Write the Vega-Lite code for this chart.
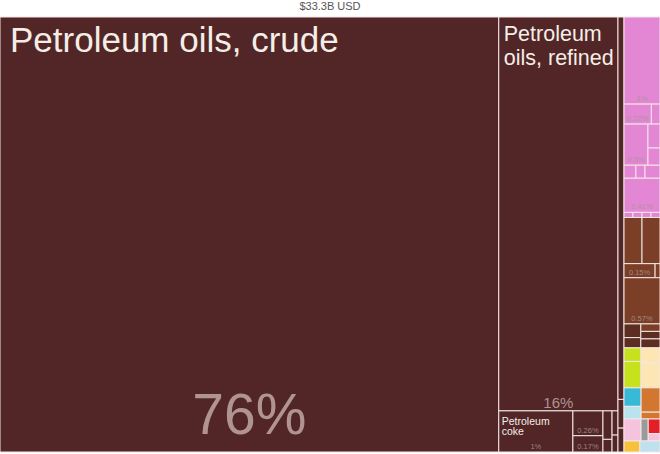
{
  "$schema": "https://vega.github.io/schema/vega-lite/v6.json",
  "autosize": "none",
  "width": 660,
  "height": 435,
  "padding": {"left": 0, "right": 0, "top": 17, "bottom": 2},
  "background": "white",
  "title": {"text": "$33.3B USD", "fontSize": 11, "font": "Liberation Sans", "fontWeight": "normal", "color": "#555555", "anchor": "middle", "offset": 5},
  "config": {"view": {"stroke": null}},
  "data": {"values": [
    {"col":1,"row":1,"cell":1,"sub":1,"name":"Petroleum oils, crude","label":"Petroleum oils, crude","sec":"fuel","share":75.45,"pct":"76%"},
    {"col":2,"row":1,"cell":1,"sub":1,"name":"Petroleum oils, refined","label":"Petroleum\noils, refined","sec":"fuel","share":16.33,"pct":"16%"},
    {"col":2,"row":2,"cell":1,"sub":1,"name":"Petroleum coke","label":"Petroleum\ncoke","sec":"fuel","share":1.06,"pct":"1%"},
    {"col":2,"row":2,"cell":2,"sub":1,"name":"Petroleum bitumen","sec":"fuel","share":0.26,"pct":"0.26%"},
    {"col":2,"row":2,"cell":2,"sub":2,"name":"Petroleum gas","sec":"fuel","share":0.17,"pct":"0.17%"},
    {"col":2,"row":2,"cell":3,"sub":1,"name":"Coal tar oil","sec":"fuel","share":0.09},
    {"col":2,"row":2,"cell":3,"sub":2,"name":"Coal","sec":"fuel","share":0.04},
    {"col":2,"row":2,"cell":4,"sub":1,"name":"Bituminous mixtures","sec":"fuel","share":0.05},
    {"col":2,"row":2,"cell":4,"sub":2,"name":"Other fuels","sec":"fuel","share":0.035},
    {"col":3,"row":1,"cell":1,"sub":1,"name":"Petroleum jelly","sec":"fuel","share":0.80},
    {"col":3,"row":2,"cell":1,"sub":1,"name":"Lignite","sec":"fuel","share":0.06},
    {"col":3,"row":3,"cell":1,"sub":1,"name":"Peat","sec":"fuel","share":0.05},
    {"col":4,"row":1,"cell":1,"sub":1,"name":"Ammonia","sec":"chem","share":1.09,"pct":"1%"},
    {"col":4,"row":2,"cell":1,"sub":1,"name":"Nitrogenous fertilizers","sec":"chem","share":0.19,"pct":"0.22%"},
    {"col":4,"row":2,"cell":2,"sub":1,"name":"Hydrogen","sec":"chem","share":0.06},
    {"col":4,"row":3,"cell":1,"sub":1,"name":"Acyclic alcohols","sec":"chem","share":0.343,"pct":"0.3%"},
    {"col":4,"row":3,"cell":2,"sub":1,"name":"Ethylene polymers","sec":"chem","share":0.10},
    {"col":4,"row":3,"cell":2,"sub":2,"name":"Propylene polymers","sec":"chem","share":0.072},
    {"col":4,"row":4,"cell":1,"sub":1,"name":"Acyclic hydrocarbons","sec":"chem","share":0.054},
    {"col":4,"row":4,"cell":2,"sub":1,"name":"Cyclic hydrocarbons","sec":"chem","share":0.041},
    {"col":4,"row":4,"cell":3,"sub":1,"name":"Carboxylic acids","sec":"chem","share":0.068},
    {"col":4,"row":5,"cell":1,"sub":1,"name":"Mixed mineral fertilizers","sec":"chem","share":0.427,"pct":"0.41%"},
    {"col":4,"row":6,"cell":1,"sub":1,"name":"Soaps","sec":"chem","share":0.016},
    {"col":4,"row":6,"cell":2,"sub":1,"name":"Paints","sec":"chem","share":0.016},
    {"col":4,"row":6,"cell":3,"sub":1,"name":"Medicaments","sec":"chem","share":0.016},
    {"col":4,"row":6,"cell":4,"sub":1,"name":"Glues","sec":"chem","share":0.016},
    {"col":4,"row":7,"cell":1,"sub":1,"name":"Cement","sec":"stone","share":0.289},
    {"col":4,"row":7,"cell":2,"sub":1,"name":"Iron ore","sec":"stone","share":0.289},
    {"col":4,"row":8,"cell":1,"sub":1,"name":"Phosphates","sec":"stone","share":0.152,"pct":"0.15%"},
    {"col":4,"row":8,"cell":2,"sub":1,"name":"Salt","sec":"stone","share":0.024},
    {"col":4,"row":9,"cell":1,"sub":1,"name":"Zinc ore","sec":"stone","share":0.578,"pct":"0.57%"},
    {"col":4,"row":10,"cell":1,"sub":1,"name":"Gypsum","sec":"dkbrown","share":0.08},
    {"col":4,"row":10,"cell":1,"sub":2,"name":"Lime","sec":"dkbrown","share":0.06},
    {"col":4,"row":10,"cell":2,"sub":1,"name":"Gravel","sec":"stone","share":0.05},
    {"col":4,"row":10,"cell":2,"sub":2,"name":"Sand","sec":"dkbrown","share":0.05},
    {"col":4,"row":10,"cell":2,"sub":3,"name":"Clay","sec":"dkbrown","share":0.06},
    {"col":4,"row":11,"cell":1,"sub":1,"name":"Dates","sec":"lime","share":0.08},
    {"col":4,"row":11,"cell":1,"sub":2,"name":"Vegetables","sec":"lime","share":0.156},
    {"col":4,"row":11,"cell":2,"sub":1,"name":"Sugar","sec":"cream","share":0.10},
    {"col":4,"row":11,"cell":2,"sub":2,"name":"Prepared foods","sec":"cream","share":0.164},
    {"col":4,"row":12,"cell":1,"sub":1,"name":"Machinery","sec":"cyan","share":0.11},
    {"col":4,"row":12,"cell":1,"sub":2,"name":"Electrical parts","sec":"ltcyan","share":0.075},
    {"col":4,"row":12,"cell":2,"sub":1,"name":"Hides","sec":"orange","share":0.16},
    {"col":4,"row":12,"cell":2,"sub":2,"name":"Leather","sec":"orange","share":0.045},
    {"col":4,"row":13,"cell":1,"sub":1,"name":"Plastics","sec":"ltpink","share":0.13},
    {"col":4,"row":13,"cell":2,"sub":1,"name":"Metals","sec":"gray","share":0.055},
    {"col":4,"row":13,"cell":3,"sub":1,"name":"Vehicles","sec":"red","share":0.06},
    {"col":4,"row":13,"cell":3,"sub":2,"name":"Rubber","sec":"ltpink","share":0.03},
    {"col":4,"row":14,"cell":1,"sub":1,"name":"Precious metals","sec":"gold","share":0.061},
    {"col":4,"row":14,"cell":2,"sub":1,"name":"Instruments","sec":"ltblue","share":0.077}
  ]},
  "transform": [
    {"stack": "share", "groupby": [], "sort": [{"field": "col"}, {"field": "row"}, {"field": "cell"}, {"field": "sub"}], "as": ["g0", "g1"], "offset": "normalize"},
    {"joinaggregate": [{"op": "min", "field": "g0", "as": "cs"}, {"op": "max", "field": "g1", "as": "ce"}], "groupby": ["col"]},
    {"stack": "share", "groupby": ["col"], "sort": [{"field": "row"}, {"field": "cell"}, {"field": "sub"}], "as": ["r0", "r1"], "offset": "normalize"},
    {"joinaggregate": [{"op": "min", "field": "r0", "as": "rs"}, {"op": "max", "field": "r1", "as": "re"}], "groupby": ["col", "row"]},
    {"stack": "share", "groupby": ["col", "row"], "sort": [{"field": "cell"}, {"field": "sub"}], "as": ["c0", "c1"], "offset": "normalize"},
    {"joinaggregate": [{"op": "min", "field": "c0", "as": "ccs"}, {"op": "max", "field": "c1", "as": "cce"}], "groupby": ["col", "row", "cell"]},
    {"stack": "share", "groupby": ["col", "row", "cell"], "sort": [{"field": "sub"}], "as": ["s0", "s1"], "offset": "normalize"},
    {"calculate": "datum.cs + (datum.ce - datum.cs) * datum.ccs", "as": "x0"},
    {"calculate": "datum.cs + (datum.ce - datum.cs) * datum.cce", "as": "x1"},
    {"calculate": "datum.rs + (datum.re - datum.rs) * datum.s0", "as": "y0"},
    {"calculate": "datum.rs + (datum.re - datum.rs) * datum.s1", "as": "y1"},
    {"calculate": "(datum.x0 + datum.x1) / 2", "as": "xc"}
  ],
  "layer": [
    {
      "mark": {"type": "rect", "stroke": "#f3e6e6", "strokeWidth": 1},
      "encoding": {
        "x": {"field": "x0", "type": "quantitative", "scale": {"domain": [0, 1], "nice": false, "zero": false}, "axis": null},
        "x2": {"field": "x1"},
        "y": {"field": "y0", "type": "quantitative", "scale": {"domain": [0, 1], "nice": false, "zero": false, "reverse": true}, "axis": null},
        "y2": {"field": "y1"},
        "color": {"field": "sec", "type": "nominal", "legend": null,
          "scale": {"domain": ["fuel", "chem", "stone", "dkbrown", "lime", "cream", "cyan", "ltcyan", "orange", "ltpink", "gray", "red", "gold", "ltblue"],
                    "range": ["#522526", "#e386d3", "#7a3f26", "#5e2d22", "#c5e21c", "#fde6b4", "#37b9d7", "#b8e4ee", "#d3762f", "#f6c3df", "#9a9a9a", "#e41f26", "#f7c23a", "#bfe0ee"]}}
      }
    },
    {
      "transform": [{"filter": "datum.name == 'Petroleum oils, crude'"}],
      "mark": {"type": "text", "align": "left", "baseline": "alphabetic", "dx": 10, "dy": 35, "fontSize": 35, "font": "Liberation Sans", "color": "#f4eee6"},
      "encoding": {"x": {"field": "x0", "type": "quantitative"}, "y": {"field": "y0", "type": "quantitative"}, "text": {"field": "label"}}
    },
    {
      "transform": [{"filter": "datum.name == 'Petroleum oils, refined'"}],
      "mark": {"type": "text", "align": "left", "baseline": "alphabetic", "dx": 5, "dy": 24, "fontSize": 21.5, "lineHeight": 24, "lineBreak": "\n", "limit": 114, "ellipsis": "\u200b", "font": "Liberation Sans", "color": "#f4eee6"},
      "encoding": {"x": {"field": "x0", "type": "quantitative"}, "y": {"field": "y0", "type": "quantitative"}, "text": {"field": "label"}}
    },
    {
      "transform": [{"filter": "datum.name == 'Petroleum coke'"}],
      "mark": {"type": "text", "align": "left", "baseline": "alphabetic", "dx": 3, "dy": 14, "fontSize": 10.5, "lineHeight": 10.5, "lineBreak": "\n", "font": "Liberation Sans", "color": "#f4eee6"},
      "encoding": {"x": {"field": "x0", "type": "quantitative"}, "y": {"field": "y0", "type": "quantitative"}, "text": {"field": "label"}}
    },
    {
      "transform": [{"filter": "datum.name == 'Petroleum oils, crude'"}],
      "mark": {"type": "text", "align": "center", "baseline": "alphabetic", "dy": -18, "fontSize": 57, "font": "Liberation Sans", "color": "#b09492"},
      "encoding": {"x": {"field": "xc", "type": "quantitative"}, "y": {"field": "y1", "type": "quantitative"}, "text": {"field": "pct"}}
    },
    {
      "transform": [{"filter": "datum.name == 'Petroleum oils, refined'"}],
      "mark": {"type": "text", "align": "center", "baseline": "alphabetic", "dy": -3, "fontSize": 15, "font": "Liberation Sans", "color": "#b09492"},
      "encoding": {"x": {"field": "xc", "type": "quantitative"}, "y": {"field": "y1", "type": "quantitative"}, "text": {"field": "pct"}}
    },
    {
      "transform": [{"filter": "datum.pct && datum.name != 'Petroleum oils, crude' && datum.name != 'Petroleum oils, refined'"}],
      "mark": {"type": "text", "align": "center", "baseline": "bottom", "dy": -1, "fontSize": 7.5, "font": "Liberation Sans", "color": "#aa9696", "opacity": 0.85},
      "encoding": {"x": {"field": "xc", "type": "quantitative"}, "y": {"field": "y1", "type": "quantitative"}, "text": {"field": "pct"}}
    }
  ]
}
